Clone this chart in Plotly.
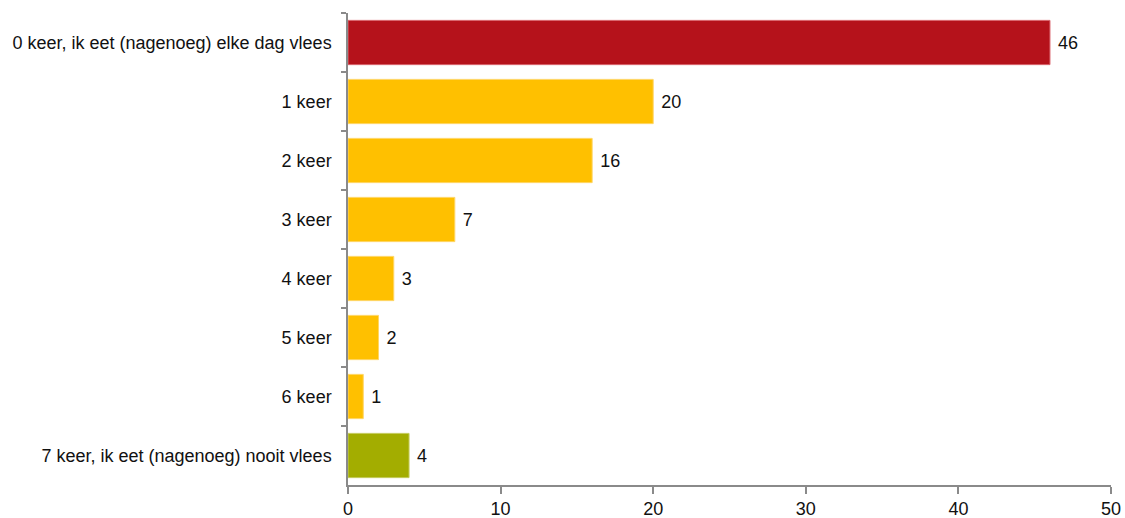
import plotly.graph_objects as go

# Hoe vaak per week eet u geen vlees? (percentages)
categories = [
    "0 keer, ik eet (nagenoeg) elke dag vlees",
    "1 keer",
    "2 keer",
    "3 keer",
    "4 keer",
    "5 keer",
    "6 keer",
    "7 keer, ik eet (nagenoeg) nooit vlees",
]
values = [46, 20, 16, 7, 3, 2, 1, 4]
bar_colors = ["#B5121B", "#FFC000", "#FFC000", "#FFC000",
              "#FFC000", "#FFC000", "#FFC000", "#A3AD00"]
edge_colors = ["#D9646C", "#FFD666", "#FFD666", "#FFD666",
               "#FFD666", "#FFD666", "#FFD666", "#C4CB5C"]
x_ticks = [0, 10, 20, 30, 40, 50]

FONT = "Liberation Sans, Arial, sans-serif"
TEXT = "#111111"
AXIS = "#8a8a8a"
SIZE = 18

fig = go.Figure(
    go.Bar(
        x=values,
        y=categories,
        orientation="h",
        marker=dict(color=bar_colors, line=dict(color=edge_colors, width=1)),
        text=[f" {v}" for v in values],
        textposition="outside",
        textfont=dict(family=FONT, size=SIZE, color=TEXT),
        cliponaxis=False,
        hoverinfo="skip",
    )
)

fig.update_layout(
    width=1125,
    height=518,
    margin=dict(l=348, r=14, t=13, b=33),
    paper_bgcolor="white",
    plot_bgcolor="white",
    bargap=0.25,
    showlegend=False,
    font=dict(family=FONT, size=SIZE, color=TEXT),
)

fig.update_xaxes(
    range=[0, 50],
    tickvals=x_ticks,
    ticks="outside",
    ticklen=7,
    tickwidth=1.5,
    tickcolor=AXIS,
    showline=True,
    linecolor=AXIS,
    linewidth=1.5,
    showgrid=False,
    zeroline=False,
    automargin=False,
    tickfont=dict(family=FONT, size=SIZE, color=TEXT),
)

fig.update_yaxes(
    autorange="reversed",
    ticks="outside",
    tickson="boundaries",
    ticklen=5,
    tickwidth=1.5,
    tickcolor=AXIS,
    showline=True,
    linecolor=AXIS,
    linewidth=1.5,
    showgrid=False,
    automargin=False,
    ticklabelstandoff=11,
    tickfont=dict(family=FONT, size=SIZE, color=TEXT),
)

fig.write_html("out.html")
